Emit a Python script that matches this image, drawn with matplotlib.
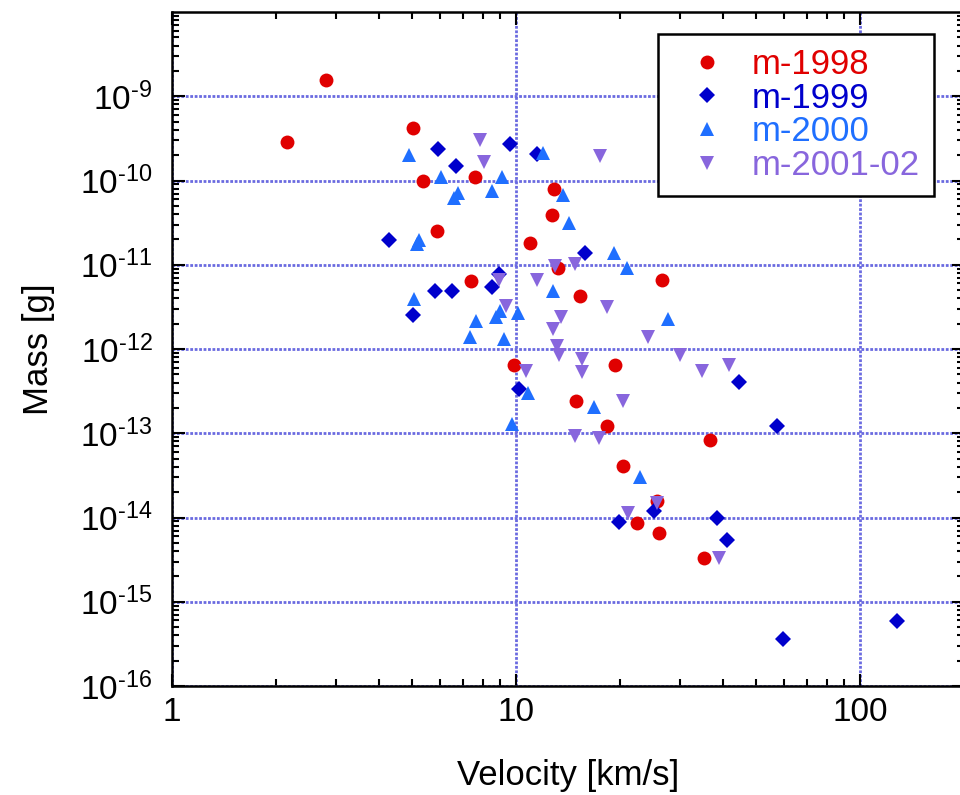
import matplotlib
matplotlib.use("Agg")
import matplotlib.pyplot as plt
from matplotlib.ticker import FixedLocator, LogLocator, NullFormatter, FixedFormatter

plt.rcParams['font.family'] = ['Liberation Sans', 'DejaVu Sans']
plt.rcParams['mathtext.fontset'] = 'custom'
plt.rcParams['mathtext.rm'] = 'Liberation Sans'
plt.rcParams['mathtext.it'] = 'Liberation Sans'

# ---- data (velocity km/s, mass g) ----
v_1998 = [2.16, 2.80, 5.03, 5.38, 7.60, 12.9, 12.75, 5.91, 11.0, 13.27, 7.40, 15.35,
          26.6, 9.89, 19.4, 14.9, 18.4, 36.7, 20.5, 25.7, 22.5, 26.0, 35.3]
m_1998 = [2.87e-10, 1.56e-9, 4.24e-10, 9.9e-11, 1.09e-10, 7.94e-11, 3.9e-11, 2.54e-11,
          1.83e-11, 9.2e-12, 6.5e-12, 4.3e-12, 6.6e-12, 6.46e-13, 6.46e-13, 2.44e-13,
          1.22e-13, 8.3e-14, 4.12e-14, 1.56e-14, 8.5e-15, 6.5e-15, 3.28e-15]

v_1999 = [5.95, 9.59, 11.49, 6.71, 4.28, 15.87, 8.94, 5.81, 6.53, 8.51, 5.01, 10.2,
          44.5, 19.9, 25.2, 38.5, 41.1, 57.3, 59.6, 128.3]
m_1999 = [2.39e-10, 2.69e-10, 2.05e-10, 1.48e-10, 1.99e-11, 1.37e-11, 7.76e-12, 4.89e-12,
          4.89e-12, 5.45e-12, 2.55e-12, 3.33e-13, 4.09e-13, 8.85e-15, 1.2e-14, 9.8e-15,
          5.4e-15, 1.23e-13, 3.6e-16, 5.86e-16]

v_2000 = [4.89, 12.0, 6.04, 9.09, 6.80, 6.62, 8.51, 13.7, 14.26, 5.22, 5.17, 19.3, 12.84,
          5.06, 8.98, 8.75, 10.1, 7.65, 7.37, 9.21, 20.98, 27.7, 10.8, 9.72, 16.9, 23.0]
m_2000 = [2.01e-10, 2.1e-10, 1.09e-10, 1.09e-10, 7.18e-11, 6.25e-11, 7.5e-11, 6.73e-11,
          3.16e-11, 1.95e-11, 1.75e-11, 1.37e-11, 4.89e-12, 3.89e-12, 2.85e-12, 2.42e-12,
          2.70e-12, 2.17e-12, 1.4e-12, 1.33e-12, 9.2e-12, 2.27e-12, 3.03e-13, 1.29e-13,
          2.03e-13, 3.0e-14]

v_2001 = [7.86, 8.07, 17.6, 12.98, 14.84, 8.94, 11.53, 9.33, 18.35, 13.5, 12.84, 13.18,
          13.34, 15.6, 15.6, 10.7, 24.2, 30.0, 34.7, 41.7, 20.4, 14.87, 17.4, 21.2, 25.7, 39.0]
m_2001 = [3.03e-10, 1.68e-10, 1.95e-10, 9.75e-12, 1.01e-11, 6.6e-12, 6.6e-12, 3.27e-12,
          3.13e-12, 2.38e-12, 1.71e-12, 1.09e-12, 8.5e-13, 7.55e-13, 5.38e-13, 5.53e-13,
          1.38e-12, 8.5e-13, 5.53e-13, 6.46e-13, 2.44e-13, 9.27e-14, 8.85e-14, 1.12e-14,
          1.5e-14, 3.28e-15]

labels = ['m-1998', 'm-1999', 'm-2000', 'm-2001-02']
colors = ['#e00000', '#0000cc', '#1f6fff', '#8866dd']

x_ticks = [1, 10, 100]
x_ticklabels = ['1', '10', '100']
y_exps = [-16, -15, -14, -13, -12, -11, -10, -9]

W, H = 960, 795
fig = plt.figure(figsize=(W / 100, H / 100), dpi=100)
ax = fig.add_axes([172 / W, (H - 686) / H, (963.6 - 172) / W, 674 / H])

series = [(v_1998, m_1998, 'o', 10), (v_1999, m_1999, 'D', 8),
          (v_2000, m_2000, '^', 10), (v_2001, m_2001, 'v', 10)]
handles = []
for (vx, my, mk, ms), lab, col in zip(series, labels, colors):
    h, = ax.plot(vx, my, linestyle='none', marker=mk, markersize=ms,
                 color=col, markeredgewidth=0, label=lab, zorder=3)
    handles.append(h)

ax.set_xscale('log')
ax.set_yscale('log')
ax.set_xlim(1, 200)
ax.set_ylim(1e-16, 1e-8)

ax.xaxis.set_major_locator(FixedLocator(x_ticks))
ax.xaxis.set_major_formatter(FixedFormatter(x_ticklabels))
ax.xaxis.set_minor_locator(LogLocator(base=10, subs=range(2, 10), numticks=20))
ax.xaxis.set_minor_formatter(NullFormatter())

yt = [10.0 ** e for e in y_exps]
ax.yaxis.set_major_locator(FixedLocator(yt))
ax.yaxis.set_major_formatter(FixedFormatter(
    [r'$\mathregular{10^{\text{-}%d}}$' % (-e) for e in y_exps]))
ax.yaxis.set_minor_locator(LogLocator(base=10, subs=range(2, 10), numticks=20))
ax.yaxis.set_minor_formatter(NullFormatter())

ax.tick_params(which='both', direction='in', top=True, right=True, width=1.5, color='black')
ax.tick_params(which='major', length=9, labelsize=24)
ax.tick_params(axis='x', which='major', pad=8)
ax.tick_params(axis='y', which='major', pad=14)
ax.tick_params(which='minor', length=5)

ax.grid(which='major', color='#6a6ae0', linestyle=(0, (1, 0.6)), linewidth=2.0, zorder=0)
ax.set_axisbelow(True)
for sp in ax.spines.values():
    sp.set_linewidth(1.8)
    sp.set_zorder(4)

ax.set_xlabel('Velocity [km/s]', fontsize=25, labelpad=22)
ax.set_ylabel('Mass [g]', fontsize=25, labelpad=18)

leg = ax.legend(handles=handles, loc='upper left',
                bbox_to_anchor=(658 / W, 1 - 34 / H), bbox_transform=fig.transFigure,
                fontsize=25, frameon=True, fancybox=False, framealpha=1,
                edgecolor='black', numpoints=1, handlelength=2.0,
                handletextpad=0.3, borderpad=0.4, labelspacing=0.02, borderaxespad=0)
leg.get_frame().set_linewidth(1.8)
for t, c in zip(leg.get_texts(), colors):
    t.set_color(c)

fig.savefig('out.png', dpi=100)
